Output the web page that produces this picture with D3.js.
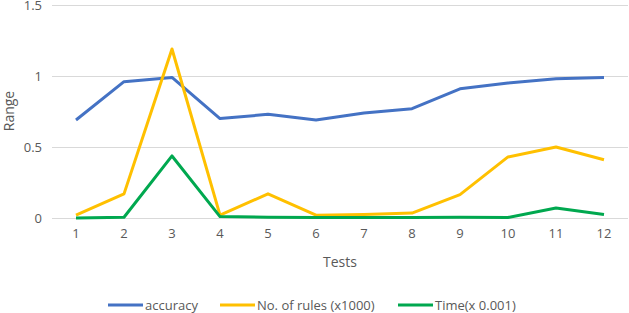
<!DOCTYPE html>
<html>
<head>
<meta charset="utf-8">
<script src="https://cdn.jsdelivr.net/npm/d3@7"></script>
<style>
  body { margin: 0; background: #fff; }
  text { font-family: "Open Sans", sans-serif; fill: #595959; }
</style>
</head>
<body>
<div id="chart"></div>
<script>
// chart data
var tests = ["1", "2", "3", "4", "5", "6", "7", "8", "9", "10", "11", "12"];
var accuracy = [0.69, 0.96, 0.99, 0.70, 0.73, 0.69, 0.74, 0.77, 0.91, 0.95, 0.98, 0.99];
var rules = [0.02, 0.17, 1.19, 0.02, 0.17, 0.02, 0.025, 0.035, 0.165, 0.43, 0.50, 0.41];
var time = [0.0, 0.005, 0.437, 0.01, 0.005, 0.004, 0.004, 0.004, 0.005, 0.004, 0.07, 0.025];
var yTicks = [0, 0.5, 1, 1.5];

var series = [
  { name: "accuracy", values: accuracy, color: "#4472C4" },
  { name: "No. of rules (x1000)", values: rules, color: "#FFC000" },
  { name: "Time(x 0.001)", values: time, color: "#00A84F" }
];

var W = 629, H = 313;
var svg = d3.select("#chart").append("svg")
  .attr("width", W)
  .attr("height", H);

/* scales */
var x = d3.scaleBand().domain(tests).range([52, 628]);
var y = d3.scaleLinear().domain([0, 1.5]).range([218, 5]);

/* gridlines */
svg.append("g")
  .selectAll("line")
  .data(yTicks)
  .enter().append("line")
    .attr("x1", 52).attr("x2", 628)
    .attr("y1", function(d) { return Math.round(y(d)) + 0.5; })
    .attr("y2", function(d) { return Math.round(y(d)) + 0.5; })
    .style("stroke", "#d9d9d9")
    .style("stroke-width", 1);

/* y axis labels */
var yAxis = svg.append("g")
  .attr("transform", "translate(42,0)")
  .call(d3.axisLeft(y).tickValues(yTicks).tickSize(0).tickPadding(0).tickFormat(d3.format("")));
yAxis.select(".domain").remove();
yAxis.selectAll("text").style("font-size", "13px").style("font-family", null).attr("fill", null);

/* x axis labels */
var xAxis = svg.append("g")
  .attr("transform", "translate(0,229)")
  .call(d3.axisBottom(x).tickSize(0).tickPadding(0));
xAxis.select(".domain").remove();
xAxis.selectAll("text").style("font-size", "13px").style("font-family", null).attr("fill", null);

/* axis titles */
svg.append("text")
  .attr("transform", "translate(14,111) rotate(-90)")
  .attr("text-anchor", "middle")
  .style("font-size", "14px")
  .text("Range");

svg.append("text")
  .attr("x", 340).attr("y", 267)
  .attr("text-anchor", "middle")
  .style("font-size", "14px")
  .text("Tests");

/* lines */
var line = d3.line()
  .x(function(d, i) { return x(tests[i]) + x.bandwidth() / 2; })
  .y(function(d) { return y(d); });

svg.append("g")
  .selectAll("path")
  .data(series)
  .enter().append("path")
    .attr("d", function(d) { return line(d.values); })
    .style("fill", "none")
    .style("stroke", function(d) { return d.color; })
    .style("stroke-width", 3)
    .style("stroke-linejoin", "round");

/* legend */
var legendX = [108, 220, 398];
var legend = svg.append("g")
  .selectAll("g")
  .data(series)
  .enter().append("g")
    .attr("transform", function(d, i) { return "translate(" + legendX[i] + ",305)"; });

legend.append("line")
  .attr("x1", 0).attr("x2", 35)
  .style("stroke", function(d) { return d.color; })
  .style("stroke-width", 3);

legend.append("text")
  .attr("x", 37).attr("y", 4.5)
  .style("font-size", "13px")
  .text(function(d) { return d.name; });
</script>
</body>
</html>
